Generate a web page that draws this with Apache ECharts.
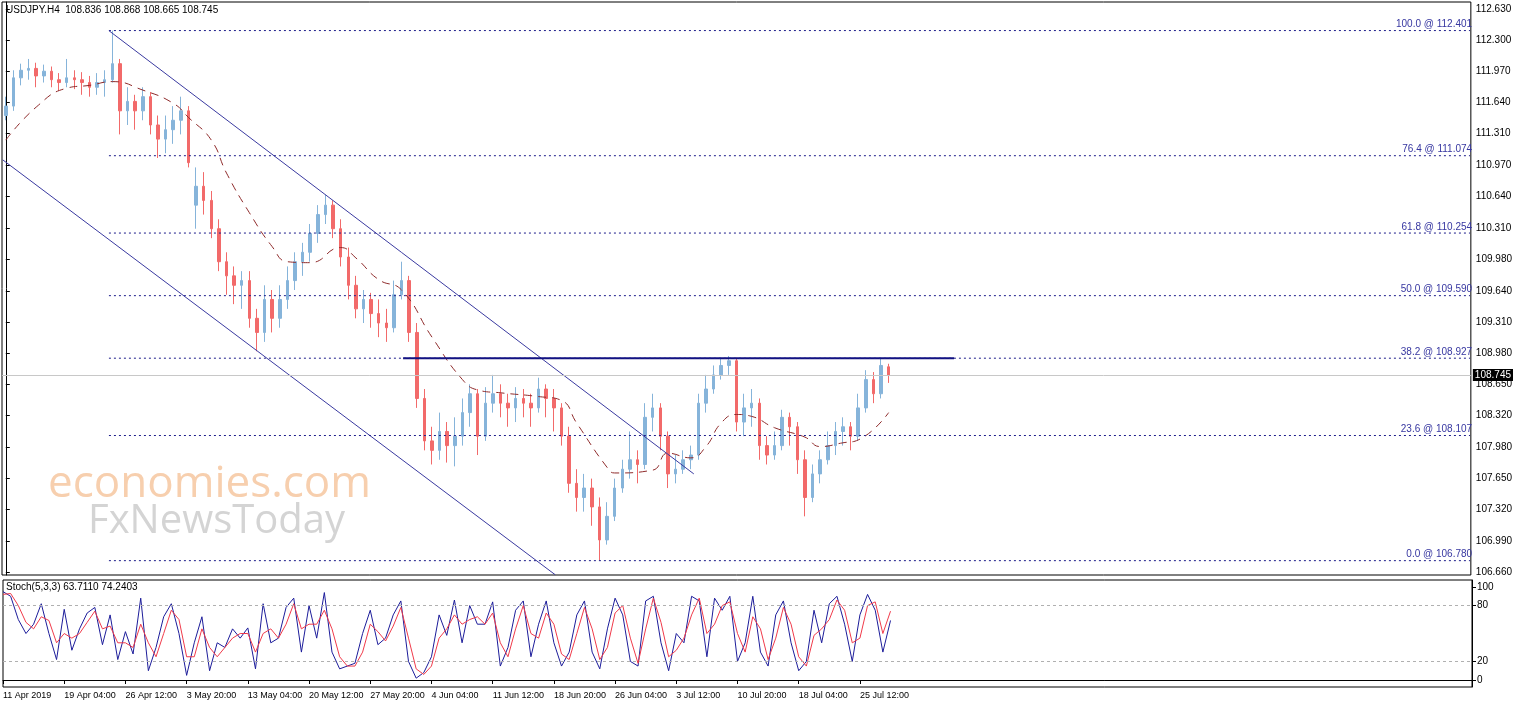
<!DOCTYPE html>
<html>
<head>
<meta charset="utf-8">
<script src="https://cdn.jsdelivr.net/npm/echarts@6/dist/echarts.min.js"></script>
<style>
html,body{margin:0;padding:0;background:#fff;}
#main{width:1515px;height:706px;}
</style>
</head>
<body>
<div id="main"></div>
<script>
// USDJPY H4 (each candle here ~ 4 bars of the original), [open, close, low, high]
var candles = [
[111.50,111.60,111.45,111.70],[111.60,111.90,111.55,111.98],[111.90,111.98,111.82,112.05],[111.98,112.00,111.88,112.10],
[112.00,111.92,111.80,112.06],[111.92,111.97,111.85,112.04],[111.97,111.88,111.80,112.02],[111.88,111.85,111.76,111.95],
[111.85,111.90,111.80,112.10],[111.90,111.88,111.78,111.98],[111.88,111.85,111.72,111.96],[111.85,111.80,111.70,111.92],
[111.80,111.85,111.72,111.95],[111.85,111.88,111.70,111.98],[111.88,112.05,111.85,112.40],[112.05,111.55,111.30,112.10],
[111.55,111.65,111.40,111.80],[111.65,111.55,111.35,111.72],[111.55,111.70,111.45,111.80],[111.70,111.40,111.30,111.75],
[111.40,111.25,111.05,111.50],[111.25,111.35,111.10,111.50],[111.35,111.45,111.20,111.60],[111.45,111.55,111.30,111.70],
[111.55,111.00,110.95,111.60],[110.55,110.75,110.30,110.95],[110.75,110.60,110.45,110.90],[110.60,110.30,110.20,110.70],
[110.30,109.95,109.85,110.40],[109.95,109.80,109.60,110.05],[109.80,109.70,109.50,109.90],[109.70,109.75,109.45,109.85],
[109.75,109.35,109.25,109.85],[109.35,109.20,109.00,109.45],[109.20,109.55,109.10,109.70],[109.55,109.35,109.20,109.65],
[109.35,109.55,109.25,109.70],[109.55,109.75,109.45,109.90],[109.75,109.95,109.65,110.05],[109.95,110.05,109.80,110.15],
[110.05,110.25,109.95,110.35],[110.25,110.45,110.15,110.55],[110.45,110.55,110.35,110.66],[110.55,110.30,110.20,110.60],
[110.30,110.00,109.90,110.40],[110.00,109.70,109.55,110.10],[109.70,109.45,109.35,109.80],[109.45,109.55,109.30,109.65],
[109.55,109.40,109.25,109.62],[109.40,109.30,109.15,109.55],[109.30,109.25,109.10,109.45],[109.25,109.60,109.20,109.75],
[109.60,109.75,109.55,109.95],[109.75,109.20,109.10,109.80],[109.20,108.50,108.40,109.30],[108.50,108.05,107.95,108.60],
[108.05,107.95,107.80,108.20],[107.95,108.15,107.85,108.35],[108.15,108.00,107.82,108.25],[108.00,108.10,107.78,108.30],
[108.10,108.35,108.00,108.50],[108.35,108.55,108.20,108.65],[108.55,108.10,107.90,108.60],[108.10,108.45,108.05,108.62],
[108.45,108.55,108.35,108.75],[108.55,108.45,108.30,108.65],[108.45,108.40,108.20,108.55],[108.40,108.50,108.25,108.62],
[108.50,108.45,108.30,108.60],[108.45,108.40,108.20,108.55],[108.40,108.60,108.35,108.72],[108.60,108.50,108.30,108.65],
[108.50,108.40,108.15,108.60],[108.40,108.10,108.00,108.45],[108.10,107.60,107.50,108.20],[107.60,107.45,107.30,107.75],
[107.45,107.55,107.30,107.70],[107.55,107.35,107.15,107.65],[107.35,107.00,106.78,107.45],[107.00,107.25,106.95,107.40],
[107.25,107.55,107.20,107.65],[107.55,107.75,107.50,107.85],[107.75,107.85,107.65,108.15],[107.85,107.80,107.60,107.95],
[107.80,108.30,107.75,108.45],[108.30,108.40,108.15,108.55],[108.40,108.10,107.95,108.45],[108.10,107.70,107.55,108.15],
[107.70,107.75,107.60,107.90],[107.75,107.85,107.70,107.95],[107.85,107.90,107.75,108.00],[107.90,108.45,107.85,108.55],
[108.45,108.60,108.35,108.75],[108.60,108.75,108.55,108.85],[108.75,108.85,108.70,108.92],[108.85,108.90,108.75,108.95],
[108.90,108.25,108.15,108.93],[108.25,108.40,108.10,108.55],[108.40,108.45,108.20,108.60],[108.45,108.00,107.85,108.50],
[108.00,107.90,107.80,108.10],[107.90,108.00,107.85,108.15],[108.00,108.30,107.95,108.38],[108.30,108.20,108.00,108.35],
[108.20,107.85,107.70,108.25],[107.85,107.45,107.25,107.95],[107.45,107.70,107.40,107.80],[107.70,107.85,107.60,107.95],
[107.85,108.00,107.80,108.15],[108.00,108.15,107.90,108.25],[108.15,108.20,108.00,108.30],[108.20,108.10,107.95,108.25],
[108.10,108.40,108.05,108.55],[108.40,108.70,108.35,108.80],[108.70,108.55,108.45,108.78],[108.55,108.85,108.50,108.92],
[108.836,108.745,108.665,108.868]
];
// dashed moving average, [bar index, value]
var maPoints = [[0,111.24],[4,111.59],[8,111.79],[11,111.82],[14,111.86],[18,111.77],[22,111.63],[24,111.48],[27,111.24],
[29,110.89],[32,110.47],[35,110.11],[37,109.95],[40,109.94],[44,110.10],[46,109.99],[49,109.76],[52,109.65],[56,109.15],
[60,108.70],[62,108.59],[65,108.56],[70,108.52],[73,108.48],[75,108.24],[79,107.77],[80,107.71],[85,107.74],[87,107.92],
[90,107.87],[92,107.99],[94,108.24],[96,108.33],[98,108.31],[101,108.19],[105,108.09],[107,107.99],[110,108.03],[112,108.06],[116,108.35]];
var stochK = [95,90,65,50,60,82,50,22,76,32,55,72,78,38,70,22,52,28,88,10,35,68,82,50,5,40,68,10,40,35,55,45,56,12,82,40,45,78,88,30,
80,45,94,30,12,15,18,50,75,38,45,70,85,20,2,8,25,70,48,86,40,80,60,60,84,15,35,75,85,25,60,85,40,15,30,70,85,30,12,55,
88,70,20,15,85,90,40,10,50,40,90,85,25,88,75,90,20,40,90,30,15,70,85,40,10,20,75,40,82,90,60,20,70,92,75,30,64];
var stochD = [92,93,80,62,55,68,64,40,50,45,50,62,74,55,58,40,40,35,60,40,25,50,75,65,25,25,55,35,25,35,45,50,50,30,50,55,45,60,82,55,
60,60,75,55,25,15,15,30,60,52,42,58,78,45,12,6,15,45,55,70,60,65,68,60,72,40,25,55,80,50,45,72,60,28,22,50,78,55,22,35,
72,80,45,18,55,88,62,25,32,45,70,88,50,60,80,84,50,30,68,55,22,45,78,60,25,15,48,55,65,86,75,40,45,80,84,50,74];
var tickIdx = [0,8,16,24,32,40,48,56,64,72,80,88,96,104,112];
var tickText = ['11 Apr 2019','19 Apr 04:00','26 Apr 12:00','3 May 20:00','13 May 04:00','20 May 12:00','27 May 20:00',
'4 Jun 04:00','11 Jun 12:00','18 Jun 20:00','26 Jun 04:00','3 Jul 12:00','10 Jul 20:00','18 Jul 04:00','25 Jul 12:00'];
var priceTicks = [106.660,106.990,107.320,107.650,107.980,108.320,108.650,108.980,109.310,109.640,109.980,110.310,110.640,
110.970,111.310,111.640,111.970,112.300,112.630];
var fibPct = ['100.0','76.4','61.8','50.0','38.2','23.6','0.0'];
var fibLevel = [112.401,111.074,110.254,109.590,108.927,108.107,106.780];

var N = 193;
var cats = [];
for (var i = 0; i < N; i++) cats.push(String(i));
var navy = '#1c1c8a';
var fnt = '"Liberation Sans", Arial, sans-serif';

var series = [{
    type: 'candlestick', xAxisIndex: 0, yAxisIndex: 0, data: candles, barWidth: 3,
    itemStyle: { color: '#86b4da', color0: '#f26a6a', borderColor: '#86b4da', borderColor0: '#f26a6a', borderWidth: 1 },
    markLine: {
        silent: true, symbol: 'none', animation: false,
        lineStyle: { color: '#c8c8c8', type: 'solid', width: 1 },
        label: { position: 'end', distance: 2, color: '#fff', backgroundColor: '#000', padding: [1, 2], fontSize: 10, fontFamily: fnt, formatter: '108.745' },
        data: [{ yAxis: 108.745 }]
    }
}, {
    type: 'line', xAxisIndex: 1, yAxisIndex: 0, data: maPoints, smooth: true, symbol: 'none',
    lineStyle: { color: '#8e2a2a', width: 1, type: [8, 6] }
}, {
    // upper channel
    type: 'line', xAxisIndex: 1, yAxisIndex: 0, data: [[13.55, 112.40], [90.4, 107.70]], symbol: 'none',
    lineStyle: { color: '#3a3aa0', width: 1 }
}, {
    // lower channel
    type: 'line', xAxisIndex: 1, yAxisIndex: 0, data: [[-0.4, 111.03], [72.2, 106.63]], symbol: 'none',
    lineStyle: { color: '#3a3aa0', width: 1 }
}, {
    // resistance
    type: 'line', xAxisIndex: 1, yAxisIndex: 0, data: [[52.2, 108.927], [124.6, 108.927]], symbol: 'none',
    lineStyle: { color: '#101080', width: 2 }
}];
fibLevel.forEach(function (lv, k) {
    series.push({
        type: 'line', xAxisIndex: 1, yAxisIndex: 0, symbol: 'none', silent: true,
        lineStyle: { color: navy, width: 1, type: [2, 3] },
        data: [[13.55, lv], [N - 0.6, lv]],
        endLabel: { show: true, align: 'right', verticalAlign: 'bottom', offset: [-6, -1],
            color: '#3636a0', fontSize: 10, fontFamily: fnt, formatter: fibPct[k] + ' @ ' + lv.toFixed(3) }
    });
});
series.push({
    type: 'line', xAxisIndex: 2, yAxisIndex: 1, data: stochK, symbol: 'none',
    lineStyle: { color: '#1c1c9a', width: 1 },
    markLine: {
        silent: true, symbol: 'none', label: { show: false },
        lineStyle: { color: '#b0b0b0', type: [3, 3], width: 1 },
        data: [{ yAxis: 80 }, { yAxis: 20 }]
    }
}, {
    type: 'line', xAxisIndex: 2, yAxisIndex: 1, data: stochD, symbol: 'none',
    lineStyle: { color: '#f03a4a', width: 1 }
});

var chart = echarts.init(document.getElementById('main'));
chart.setOption({
    animation: false,
    grid: [
        { left: 2, width: 1470, top: 2, height: 573, show: true, borderColor: '#000', borderWidth: 1 },
        { left: 2, width: 1470, top: 580, height: 107, show: true, borderColor: '#000', borderWidth: 1 }
    ],
    xAxis: [
        { type: 'category', gridIndex: 0, data: cats, axisLine: { show: false }, axisTick: { show: false }, axisLabel: { show: false } },
        { type: 'value', gridIndex: 0, min: -0.5, max: N - 0.5, show: false },
        { type: 'category', gridIndex: 1, data: cats, boundaryGap: false,
          axisLine: { lineStyle: { color: '#000' } },
          axisTick: { length: 4, lineStyle: { color: '#000' }, interval: function (i) { return tickIdx.indexOf(i) >= 0; } },
          axisLabel: { color: '#000', fontSize: 9, fontFamily: fnt, align: 'left', margin: 4, showMinLabel: true, hideOverlap: false,
              interval: function (i) { return tickIdx.indexOf(i) >= 0; },
              formatter: function (v, i) { var k = tickIdx.indexOf(i); return k >= 0 ? tickText[k] : ''; } } }
    ],
    yAxis: [
        { type: 'value', gridIndex: 0, position: 'right', min: 106.628, max: 112.704, splitLine: { show: false },
          axisLine: { show: true, lineStyle: { color: '#000' } },
          axisTick: { show: true, length: 4, customValues: priceTicks, lineStyle: { color: '#000' } },
          axisLabel: { color: '#000', fontSize: 10, fontFamily: fnt, margin: 5, customValues: priceTicks,
              formatter: function (v) { return v.toFixed(3); } } },
        { type: 'value', gridIndex: 1, position: 'right', min: -7.5, max: 107.5, splitLine: { show: false },
          axisLine: { show: true, lineStyle: { color: '#000' } },
          axisTick: { show: true, length: 4, customValues: [0, 20, 80, 100], lineStyle: { color: '#000' } },
          axisLabel: { color: '#000', fontSize: 10, fontFamily: fnt, margin: 5, customValues: [0, 20, 80, 100] } }
    ],
    graphic: [
        { type: 'text', left: 6, top: 5, style: { text: 'USDJPY.H4  108.836 108.868 108.665 108.745', fill: '#000', font: '10px ' + fnt } },
        { type: 'text', left: 6, top: 582, style: { text: 'Stoch(5,3,3) 63.7110 74.2403', fill: '#000', font: '10px ' + fnt } },
        { type: 'text', left: 48, top: 462, z: -1, style: { text: 'economies.com', fill: '#f7cfae', font: '44px "Open Sans", sans-serif' } },
        { type: 'text', left: 88, top: 502, z: -1, style: { text: 'FxNewsToday', fill: '#d4d4d4', font: '40px "Open Sans", sans-serif' } }
    ],
    series: series
});
</script>
</body>
</html>
